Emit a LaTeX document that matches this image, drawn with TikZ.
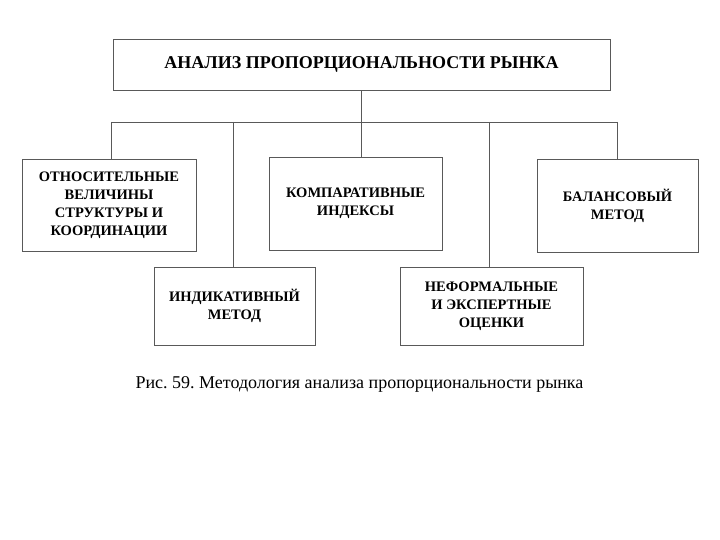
\documentclass[tikz,border=0pt]{standalone}
\usepackage{fontspec}
\setmainfont{Liberation Serif}[BoldFont={Liberation Serif Bold}]
\usetikzlibrary{
    positioning % for placing nodes relative to other nodes
}
\frenchspacing

\begin{document}
\begin{tikzpicture}[
        x=1pt,y=-1pt,
        every box/.style  = {draw=black!65,line width=0.9pt,align=center,
                             font=\bfseries\fontsize{14.5}{18}\selectfont,inner sep=2pt},
        title box/.style  = {every box,font=\bfseries\fontsize{18}{22}\selectfont},
        tie/.style        = {draw=black!65,line width=0.9pt}
    ]
    \useasboundingbox (0,0) rectangle (720,540);

    % top of the tree

        \node [title box,minimum width=497pt,minimum height=51pt] (top) at (361.5,64.5)
            {АНАЛИЗ ПРОПОРЦИОНАЛЬНОСТИ РЫНКА};

    % five methods

        \node [every box,minimum width=174pt,minimum height=92pt] (rel)  at (109,205)
            {ОТНОСИТЕЛЬНЫЕ\\ВЕЛИЧИНЫ\\СТРУКТУРЫ И\\КООРДИНАЦИИ};
        \node [every box,minimum width=173pt,minimum height=93pt] (comp) at (355.5,203.5)
            {КОМПАРАТИВНЫЕ\\ИНДЕКСЫ};
        \node [every box,minimum width=161pt,minimum height=93pt] (bal)  at (617.5,205.5)
            {БАЛАНСОВЫЙ\\МЕТОД};
        \node [every box,minimum width=161pt,minimum height=78pt] (ind)  at (234.5,306)
            {ИНДИКАТИВНЫЙ\\МЕТОД};
        \node [every box,minimum width=183pt,minimum height=78pt] (inf)  at (491.5,306)
            {НЕФОРМАЛЬНЫЕ\\И ЭКСПЕРТНЫЕ\\ОЦЕНКИ};

    % connectors

        \foreach \x/\n in {111/rel,233/ind,361/comp,489/inf,617/bal}
            \coordinate (d\n) at (\x,122);
        \path [tie] (top.south) -- (top.south |- dcomp);
        \path [tie] (drel) -- (dbal);
        \foreach \n in {rel,ind,comp,inf,bal}
            \path [tie] (d\n) -- (d\n |- \n.north);

    % caption

        \node [anchor=base,font=\fontsize{18}{21}\selectfont] (cap) at (359.5,388)
            {Рис. 59. Методология анализа пропорциональности рынка};

\end{tikzpicture}
\end{document}
